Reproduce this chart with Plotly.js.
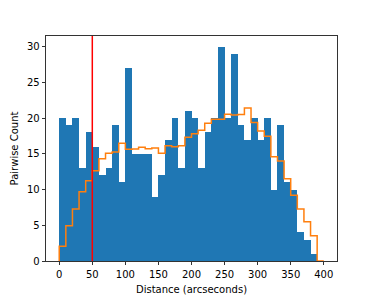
<!DOCTYPE html>
<html>
<head>
<meta charset="utf-8">
<script src="https://cdn.plot.ly/plotly-3.0.1.min.js"></script>
<style>html,body{margin:0;padding:0;background:#fff;}#chart{width:374px;height:299px;}</style>
</head>
<body>
<div id="chart"></div>
<script>
// Histogram of observed pairwise distances (bin width 10 arcsec, from 0)
var binWidth = 10;
var observedCounts = [20, 19, 20, 13, 18, 16, 12, 13, 19, 11,
                      27, 15, 15, 15, 9, 12, 17, 20, 13, 21,
                      20, 13, 18, 20, 30, 20, 29, 19, 17, 20,
                      17, 20, 10, 19, 11, 10, 4, 3, 1, 0];
// Expected (random) counts, drawn as a step outline
var expectedCounts = [2.05, 4.95, 7.28, 9.71, 11.25, 12.65, 14.3, 15.07, 15.26, 16.47,
                      15.65, 15.68, 15.91, 15.73, 15.82, 15.07, 16.14, 16.0, 16.14, 17.31,
                      17.8, 18.32, 19.3, 19.83, 19.83, 20.53, 20.45, 20.5, 21.42, 19.4,
                      18.2, 17.45, 14.6, 14.0, 11.5, 9.22, 7.28, 5.5, 3.55, 0];
var threshold = 50;
var xTicks = [0, 50, 100, 150, 200, 250, 300, 350, 400];
var yTicks = [0, 5, 10, 15, 20, 25, 30];

var centers = observedCounts.map(function (_, i) { return i * binWidth + binWidth / 2; });
var stepX = [0], stepY = [0];
expectedCounts.forEach(function (v, i) { stepX.push(i * binWidth); stepY.push(v); });
stepX.push(expectedCounts.length * binWidth); stepY.push(0);

var font = {family: 'DejaVu Sans, sans-serif', size: 10, color: '#000'};

var traces = [
  {type: 'bar', x: centers, y: observedCounts, width: binWidth,
   marker: {color: '#1f77b4', line: {width: 0}}, hoverinfo: 'skip'},
  {type: 'scatter', mode: 'lines', x: stepX, y: stepY,
   line: {color: '#ff7f0e', width: 1.5, shape: 'hv'}, hoverinfo: 'skip'}
];

var layout = {
  width: 374, height: 299,
  margin: {l: 46, r: 37, t: 36, b: 38},
  paper_bgcolor: '#fff', plot_bgcolor: '#fff',
  showlegend: false, bargap: 0, font: font,
  xaxis: {range: [-20, 420], tickvals: xTicks, ticktext: xTicks.map(String),
          ticks: 'outside', ticklen: 3.5, tickwidth: 0.8, tickcolor: '#000',
          showline: true, linecolor: '#000', linewidth: 0.8, mirror: true,
          showgrid: false, zeroline: false, tickfont: font, ticklabelstandoff: 1,
          title: {text: 'Distance (arcseconds)', font: font, standoff: 6}},
  yaxis: {range: [0, 31.5], tickvals: yTicks, ticktext: yTicks.map(String),
          ticks: 'outside', ticklen: 3.5, tickwidth: 0.8, tickcolor: '#000',
          showline: true, linecolor: '#000', linewidth: 0.8, mirror: true,
          showgrid: false, zeroline: false, tickfont: font,
          title: {text: 'Pairwise Count', font: font, standoff: 6}},
  shapes: [{type: 'line', xref: 'x', yref: 'paper', x0: threshold, x1: threshold, y0: 0, y1: 1,
            line: {color: 'red', width: 1.5}, layer: 'above'}]
};

Plotly.newPlot('chart', traces, layout, {displayModeBar: false, staticPlot: true});
</script>
</body>
</html>
